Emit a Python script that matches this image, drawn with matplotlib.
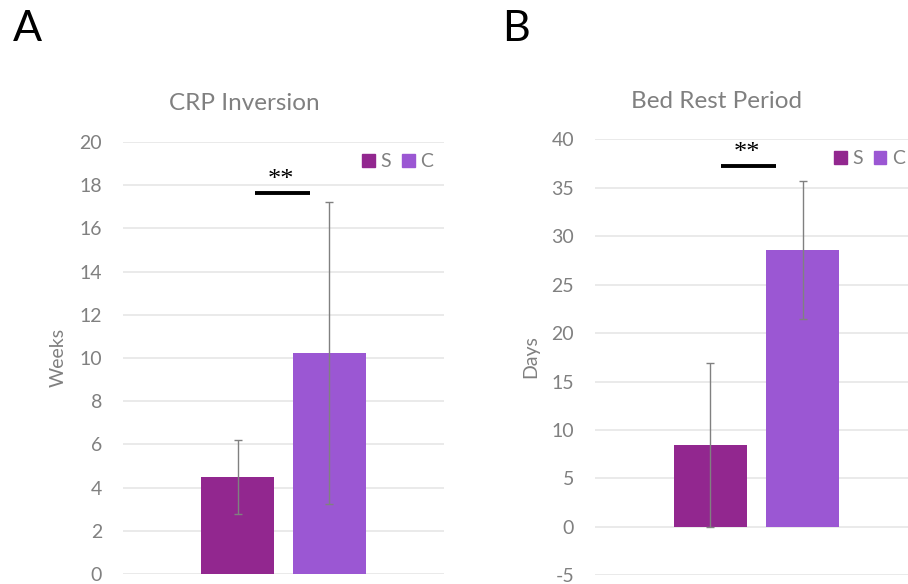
import matplotlib
matplotlib.use("Agg")
import matplotlib.pyplot as plt
from matplotlib.patches import Patch

plt.rcParams['font.family'] = ['Lato', 'DejaVu Sans']

categories = ['S', 'C']
crp_means = [4.5, 10.23]
crp_err = [1.72, 6.98]
bed_means = [8.46, 28.6]
bed_err = [8.5, 7.1]
crp_sig = 17.65
bed_sig = 37.25
crp_ticks = [0, 2, 4, 6, 8, 10, 12, 14, 16, 18, 20]
bed_ticks = [-5, 0, 5, 10, 15, 20, 25, 30, 35, 40]

colors = ['#92278F', '#9B57D3']
gray = '#808080'
grid_c = '#E6E6E6'

W, H = 908, 584
fig = plt.figure(figsize=(W / 100, H / 100), dpi=100)

def px_axes(l, r, top, bot):
    return fig.add_axes([l / W, (H - bot) / H, (r - l) / W, (bot - top) / H])

axA = px_axes(123, 444, 142, 574)
axB = px_axes(595, 918, 139.3, 575.3)

offsets = [-0.143, 0.143]
bw = 0.227

def draw(ax, means, errs, ticks, sig, sig_x, legend_x):
    for i, (m, e) in enumerate(zip(means, errs)):
        ax.bar(offsets[i], m, width=bw, color=colors[i], zorder=2)
        ax.errorbar(offsets[i], m, yerr=e, fmt='none', ecolor=gray,
                    elinewidth=1, capsize=3, capthick=1, zorder=3)
    ax.set_xlim(-0.5, 0.5)
    ax.set_ylim(ticks[0], ticks[-1])
    ax.set_yticks(ticks)
    ax.set_yticklabels([str(t) for t in ticks])
    ax.set_xticks([])
    ax.yaxis.grid(True, color=grid_c, lw=1.2, zorder=0)
    ax.set_axisbelow(True)
    for s in ax.spines.values():
        s.set_visible(False)
    ax.tick_params(axis='y', length=0, pad=15, labelsize=14, labelcolor=gray)
    ax.plot(sig_x, [sig, sig], color='black', lw=2.8, solid_capstyle='butt',
            zorder=4, clip_on=False)
    ax.text(sum(sig_x) / 2 - 0.005, sig + (ticks[-1] - ticks[0]) * 0.004, '**',
            ha='center', va='bottom', fontsize=19, color='black',
            family=['Liberation Serif', 'DejaVu Serif'])
    handles = [Patch(color=colors[i], label=categories[i]) for i in range(2)]
    ax.legend(handles=handles, ncol=2, frameon=False, loc='center left',
              bbox_to_anchor=(legend_x, 0.955), fontsize=14,
              handlelength=0.65, handleheight=0.65, handletextpad=0.3,
              columnspacing=0.55, borderpad=0, borderaxespad=0,
              labelcolor=gray)

draw(axA, crp_means, crp_err, crp_ticks, crp_sig, [-0.089, 0.083], 0.745)
draw(axB, bed_means, bed_err, bed_ticks, bed_sig, [-0.110, 0.060], 0.74)

fig.text(244 / W, (H - 104) / H, 'CRP Inversion', ha='center', va='center',
         fontsize=17.5, color=gray)
fig.text(716.5 / W, (H - 102) / H, 'Bed Rest Period', ha='center', va='center',
         fontsize=17.5, color=gray)
fig.text(58 / W, (H - 357) / H, 'Weeks', ha='center', va='center',
         rotation=90, fontsize=14, color=gray)
fig.text(531 / W, (H - 357) / H, 'Days', ha='center', va='center',
         rotation=90, fontsize=14, color=gray)
fig.text(27 / W, (H - 29) / H, 'A', ha='center', va='center',
         fontsize=31, color='black')
fig.text(516 / W, (H - 29) / H, 'B', ha='center', va='center',
         fontsize=31, color='black')

fig.savefig('out.png', dpi=100)
